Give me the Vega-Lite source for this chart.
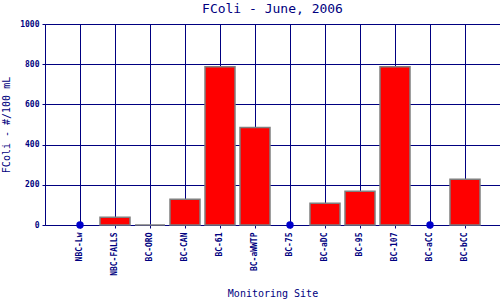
{
  "$schema": "https://vega.github.io/schema/vega-lite/v6.json",
  "width": 455,
  "height": 201,
  "autosize": "none",
  "padding": {"left": 45, "top": 24, "right": 0, "bottom": 75},
  "background": "white",
  "title": {
    "text": "FColi - June, 2006",
    "font": "DejaVu Sans Mono",
    "fontSize": 13,
    "fontWeight": "normal",
    "color": "#000080",
    "anchor": "middle",
    "offset": 4
  },
  "config": {
    "view": {"stroke": "#000080", "strokeWidth": 1},
    "axis": {
      "labelFont": "DejaVu Sans Mono",
      "labelFontWeight": "bold",
      "labelFontSize": 8,
      "labelColor": "#000080",
      "titleFont": "DejaVu Sans Mono",
      "titleFontWeight": "normal",
      "titleFontSize": 10,
      "titleColor": "#000080",
      "gridColor": "#000080",
      "gridOpacity": 1,
      "gridWidth": 1,
      "domainColor": "#000080",
      "tickColor": "#000080",
      "tickSize": 3
    }
  },
  "data": {
    "values": [
      {"site": "NBC-Lw", "fcoli": null},
      {"site": "NBC-FALLS", "fcoli": 38},
      {"site": "BC-ORO", "fcoli": 0},
      {"site": "BC-CAN", "fcoli": 128},
      {"site": "BC-61", "fcoli": 787},
      {"site": "BC-aWWTP", "fcoli": 485},
      {"site": "BC-75", "fcoli": null},
      {"site": "BC-aDC", "fcoli": 108},
      {"site": "BC-95", "fcoli": 168},
      {"site": "BC-107", "fcoli": 787},
      {"site": "BC-aCC", "fcoli": null},
      {"site": "BC-bCC", "fcoli": 227}
    ]
  },
  "encoding": {
    "x": {
      "field": "site",
      "type": "nominal",
      "sort": ["NBC-Lw", "NBC-FALLS", "BC-ORO", "BC-CAN", "BC-61", "BC-aWWTP", "BC-75", "BC-aDC", "BC-95", "BC-107", "BC-aCC", "BC-bCC"],
      "scale": {"paddingInner": 0, "paddingOuter": 0.5},
      "axis": {
        "title": "Monitoring Site",
        "titleY": 68,
        "titleBaseline": "middle",
        "labelAngle": -90,
        "labelPadding": 4,
        "bandPosition": 0.5,
        "grid": true,
        "domain": false
      }
    }
  },
  "layer": [
    {
      "mark": {"type": "bar", "size": 30, "color": "#ff0000", "stroke": "#7f7f7f", "strokeWidth": 1.5},
      "transform": [{"filter": "datum.fcoli !== null"}],
      "encoding": {
        "y": {
          "field": "fcoli",
          "type": "quantitative",
          "scale": {"domain": [0, 1000], "nice": false},
          "axis": {
            "title": "FColi - #/100 mL",
            "titlePadding": 8,
            "format": "d",
            "values": [0, 200, 400, 600, 800, 1000],
            "grid": true,
            "labelPadding": 3,
            "domain": false
          }
        }
      }
    },
    {
      "mark": {"type": "point", "filled": true, "color": "#0000cc", "size": 55, "opacity": 1},
      "transform": [{"filter": "datum.fcoli === null"}],
      "encoding": {
        "y": {"datum": 0, "type": "quantitative"}
      }
    }
  ]
}
